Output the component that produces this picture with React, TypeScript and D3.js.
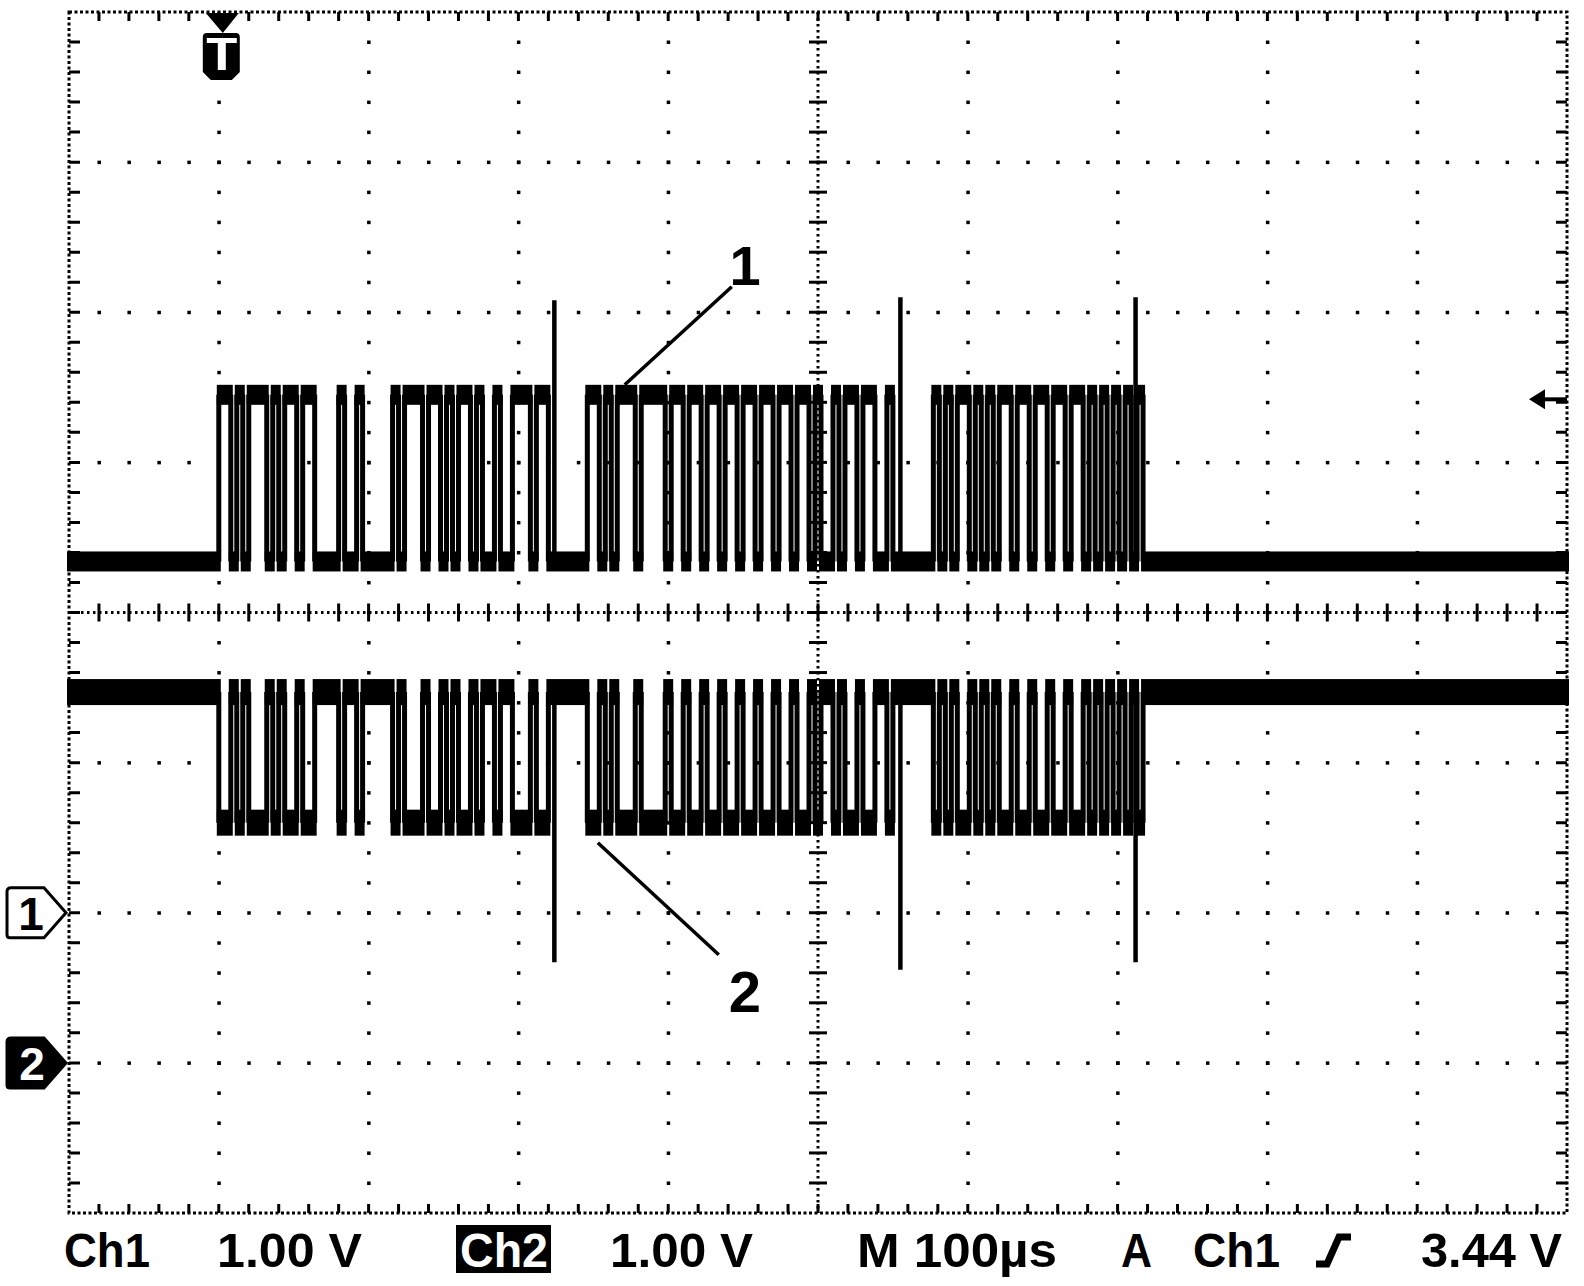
import React, { useEffect, useRef } from 'react';
import * as d3 from 'd3';

// scope settings, as shown in the status line
const statusLabels = ["Ch1", "1.00 V", "Ch2", "1.00 V", "M 100µs", "A", "Ch1", "3.44 V"];
const voltsPerDiv = [1.0, 1.0];
const timePerDiv = 100; // µs
const triggerLevel = 3.44; // V on Ch1
const groundDiv = [-2, -3]; // ground markers, divisions from screen center

// bus levels in volts: [recessive, dominant]
const ch1Levels = [2.34, 3.45];
const ch2Levels = [2.47, 1.6];

// three frames on the bus, 0 = dominant bit, 1 = recessive bit
const bitTime = 4; // µs
const frameStarts = [0, 246, 477];
const frameBits = [
  "0010100010100100111101101111101000100101001011011000100",
  "001010001000010010010010010010010010010110100100110",
  "01010010101001001001001001010101010",
];

// narrow over-swings at the end of each frame
const spikeTimes = [224, 455, 612];
const ch1SpikePeaks = [4.08, 4.1, 4.1];
const ch2SpikeTroughs = [0.67, 0.62, 0.67];

// callouts "1" and "2" pointing at the traces
const calloutLabels = ["1", "2"];
const calloutTimes = [271, 253];

const App = () => {
  const svgRef = useRef<SVGSVGElement | null>(null);

  useEffect(() => {
    const svg = d3.select(svgRef.current);
    svg.selectAll('*').remove();
    drawScope(svg);
  }, []);

  const drawScope = (svg: any) => {
    // graticule box
    const left = 69, right = 1567, top = 12, bottom = 1213;
    const ink = "#000";

    const xDiv = d3.scaleLinear().domain([0, 10]).range([left, right]);
    const yDiv = d3.scaleLinear().domain([4, -4]).range([top, bottom]);
    const x = d3.scaleLinear().domain([-timePerDiv, 9 * timePerDiv]).range([left, right]);
    const yCh = (ch: number) =>
      d3.scaleLinear()
        .domain([0, voltsPerDiv[ch]])
        .range([yDiv(groundDiv[ch]), yDiv(groundDiv[ch] + 1)]);
    const y1 = yCh(0);
    const y2 = yCh(1);

    const grid = svg.append('g').attr('id', 'grid');

    const minorX = d3.range(1, 50).map((i) => i / 5);
    const minorY = d3.range(-19, 20).map((i) => i / 5);

    // dotted division lines
    [1, 2, 3, 4, 6, 7, 8, 9].forEach((i) => {
      grid.selectAll(null)
        .data(minorY)
        .enter().append('rect')
        .attr('x', xDiv(i) - 1.5)
        .attr('y', (d: number) => yDiv(d) - 1.5)
        .attr('width', 3.5)
        .attr('height', 3.5)
        .attr('fill', ink);
    });
    [-3, -2, -1, 1, 2, 3].forEach((j) => {
      grid.selectAll(null)
        .data(minorX)
        .enter().append('rect')
        .attr('x', (d: number) => xDiv(d) - 1.5)
        .attr('y', yDiv(j) - 1.5)
        .attr('width', 3.5)
        .attr('height', 3.5)
        .attr('fill', ink);
    });

    // center cross, dense dots with ticks
    grid.append('line')
      .attr('x1', xDiv(5)).attr('x2', xDiv(5))
      .attr('y1', top).attr('y2', bottom)
      .attr('stroke', ink).attr('stroke-width', 3)
      .attr('stroke-dasharray', '2.5,3.5');
    grid.append('line')
      .attr('x1', left).attr('x2', right)
      .attr('y1', yDiv(0)).attr('y2', yDiv(0))
      .attr('stroke', ink).attr('stroke-width', 3)
      .attr('stroke-dasharray', '2.5,3.5');
    grid.selectAll(null)
      .data(minorY)
      .enter().append('line')
      .attr('x1', xDiv(5) - 9).attr('x2', xDiv(5) + 9)
      .attr('y1', (d: number) => yDiv(d)).attr('y2', (d: number) => yDiv(d))
      .attr('stroke', ink).attr('stroke-width', 3);
    grid.selectAll(null)
      .data(minorX)
      .enter().append('line')
      .attr('y1', yDiv(0) - 9).attr('y2', yDiv(0) + 9)
      .attr('x1', (d: number) => xDiv(d)).attr('x2', (d: number) => xDiv(d))
      .attr('stroke', ink).attr('stroke-width', 3);

    // border and its ticks
    grid.append('rect')
      .attr('x', left).attr('y', top)
      .attr('width', right - left).attr('height', bottom - top)
      .attr('fill', 'none')
      .attr('stroke', ink).attr('stroke-width', 3)
      .attr('stroke-dasharray', '3,2.5');
    grid.selectAll(null)
      .data(minorY)
      .enter().append('path')
      .attr('d', (d: number) => `M${left},${yDiv(d)}h11M${right},${yDiv(d)}h-11`)
      .attr('stroke', ink).attr('stroke-width', 3);
    grid.selectAll(null)
      .data(minorX)
      .enter().append('path')
      .attr('d', (d: number) => `M${xDiv(d)},${top}v9M${xDiv(d)},${bottom}v-9`)
      .attr('stroke', ink).attr('stroke-width', 3);

    // turn the bit strings into constant-level runs
    const buildRuns = (levels: number[]) => {
      const runs: { t0: number; t1: number; v: number }[] = [];
      let t = -timePerDiv;
      frameStarts.forEach((start, f) => {
        runs.push({ t0: t, t1: start, v: levels[0] });
        const bits = frameBits[f];
        let i = 0;
        while (i < bits.length) {
          let j = i;
          while (j < bits.length && bits[j] === bits[i]) j++;
          runs.push({
            t0: start + i * bitTime,
            t1: start + j * bitTime,
            v: bits[i] === '0' ? levels[1] : levels[0],
          });
          i = j;
        }
        t = start + bits.length * bitTime;
      });
      runs.push({ t0: t, t1: 9 * timePerDiv, v: levels[0] });
      return runs.filter((r) => r.t1 > r.t0);
    };

    const drawTrace = (levels: number[], yScale: any, band: number, spikeEnds: number[]) => {
      const runs = buildRuns(levels);
      const g = svg.append('g');
      g.selectAll(null)
        .data(runs)
        .enter().append('rect')
        .attr('x', (d: any) => x(d.t0) - 2)
        .attr('width', (d: any) => x(d.t1) - x(d.t0) + 4)
        .attr('y', (d: any) => yScale(d.v) - band / 2)
        .attr('height', band)
        .attr('fill', ink);
      const edges = runs.slice(1).map((r, k) => ({ t: r.t0, from: runs[k].v, to: r.v }))
        .filter((e) => e.from !== e.to);
      g.selectAll(null)
        .data(edges)
        .enter().append('line')
        .attr('x1', (d: any) => x(d.t)).attr('x2', (d: any) => x(d.t))
        .attr('y1', (d: any) => yScale(d.from)).attr('y2', (d: any) => yScale(d.to))
        .attr('stroke', ink).attr('stroke-width', 5);
      g.selectAll(null)
        .data(spikeTimes)
        .enter().append('line')
        .attr('x1', (d: number) => x(d)).attr('x2', (d: number) => x(d))
        .attr('y1', yScale(levels[0]))
        .attr('y2', (_d: number, k: number) => yScale(spikeEnds[k]))
        .attr('stroke', ink).attr('stroke-width', 4.5);
    };

    drawTrace(ch1Levels, y1, 20, ch1SpikePeaks);
    drawTrace(ch2Levels, y2, 26, ch2SpikeTroughs);

    // callouts
    const callouts = svg.append('g');
    const c1x = x(calloutTimes[0]);
    const c1y = y1(ch1Levels[1]) - 10;
    callouts.append('line')
      .attr('x1', c1x).attr('y1', c1y)
      .attr('x2', c1x + 107).attr('y2', c1y - 98)
      .attr('stroke', ink).attr('stroke-width', 3.5);
    const c2x = x(calloutTimes[1]);
    const c2y = y2(ch2Levels[1]) + 20;
    callouts.append('line')
      .attr('x1', c2x).attr('y1', c2y)
      .attr('x2', c2x + 121).attr('y2', c2y + 112)
      .attr('stroke', ink).attr('stroke-width', 3.5);
    callouts.append('text')
      .attr('x', 745).attr('y', 285)
      .attr('text-anchor', 'middle')
      .attr('font-family', 'Liberation Sans, Arial, sans-serif')
      .attr('font-weight', 'bold').attr('font-size', 56)
      .text(calloutLabels[0]);
    callouts.append('text')
      .attr('x', 745).attr('y', 1012)
      .attr('text-anchor', 'middle')
      .attr('font-family', 'Liberation Sans, Arial, sans-serif')
      .attr('font-weight', 'bold').attr('font-size', 58)
      .text(calloutLabels[1]);

    // trigger position marker
    const tx = x(0) + 3;
    const marks = svg.append('g');
    marks.append('path')
      .attr('d', `M${tx - 16},${top + 1}H${tx + 17}L${tx + 1},${top + 21}Z`)
      .attr('fill', ink);
    marks.append('path')
      .attr('d', `M${tx - 15},33H${tx + 14}Q${tx + 18},33 ${tx + 18},37V72L${tx + 10},80H${tx - 11}L${tx - 19},72V37Q${tx - 19},33 ${tx - 15},33Z`)
      .attr('fill', ink);
    marks.append('path')
      .attr('d', `M${tx - 15},38H${tx + 15}V43H${tx + 4}V70H${tx - 4}V43H${tx - 15}Z`)
      .attr('fill', '#fff');

    // trigger level arrow on the right
    const ty = y1(triggerLevel) + 3;
    marks.append('path')
      .attr('d', `M${right - 38},${ty}L${right - 22},${ty - 10}V${ty + 10}Z`)
      .attr('fill', ink);
    marks.append('line')
      .attr('x1', right - 24).attr('x2', right)
      .attr('y1', ty).attr('y2', ty)
      .attr('stroke', ink).attr('stroke-width', 4);

    // channel ground markers
    const g1 = y1(0);
    marks.append('path')
      .attr('d', `M10,${g1 - 25}H44L${left - 3},${g1}L44,${g1 + 25}H10Q7,${g1 + 25} 7,${g1 + 22}V${g1 - 21}Q7,${g1 - 25} 11,${g1 - 25}Z`)
      .attr('fill', '#fff').attr('stroke', ink).attr('stroke-width', 3);
    marks.append('text')
      .attr('x', 31).attr('y', g1 + 17)
      .attr('text-anchor', 'middle')
      .attr('font-family', 'Liberation Sans, Arial, sans-serif')
      .attr('font-weight', 'bold').attr('font-size', 46)
      .text('1');
    const g2 = y2(0);
    marks.append('path')
      .attr('d', `M10,${g2 - 25}H44L${left - 3},${g2}L44,${g2 + 25}H10Q7,${g2 + 25} 7,${g2 + 22}V${g2 - 21}Q7,${g2 - 25} 11,${g2 - 25}Z`)
      .attr('fill', ink).attr('stroke', ink).attr('stroke-width', 3);
    marks.append('text')
      .attr('x', 32).attr('y', g2 + 17)
      .attr('text-anchor', 'middle')
      .attr('font-family', 'Liberation Sans, Arial, sans-serif')
      .attr('font-weight', 'bold').attr('font-size', 46)
      .attr('fill', '#fff')
      .text('2');

    // status line
    const status = svg.append('g')
      .attr('font-family', 'Liberation Sans, Arial, sans-serif')
      .attr('font-weight', 'bold')
      .attr('font-size', 48);
    status.append('rect')
      .attr('x', 456).attr('y', 1225)
      .attr('width', 95).attr('height', 48)
      .attr('fill', ink);
    const spans = [[64, 150], [217, 362], [460, 548], [610, 753], [857, 1057], [1121, 1152], [1193, 1280], [1421, 1562]];
    status.selectAll(null)
      .data(statusLabels)
      .enter().append('text')
      .attr('x', (_d: string, i: number) => spans[i][0])
      .attr('y', 1267)
      .attr('textLength', (_d: string, i: number) => spans[i][1] - spans[i][0])
      .attr('lengthAdjust', 'spacingAndGlyphs')
      .attr('fill', (_d: string, i: number) => (i === 2 ? '#fff' : ink))
      .text((d: string) => d);
    // rising-edge slope symbol
    status.append('path')
      .attr('d', 'M1316,1264H1327L1339,1237H1351')
      .attr('fill', 'none')
      .attr('stroke', ink).attr('stroke-width', 7);
  };

  return (
    <svg
      ref={svgRef}
      width={1584}
      height={1286}
      style={{ position: 'absolute', left: 0, top: 0, background: '#fff' }}
    />
  );
};

export default App;
